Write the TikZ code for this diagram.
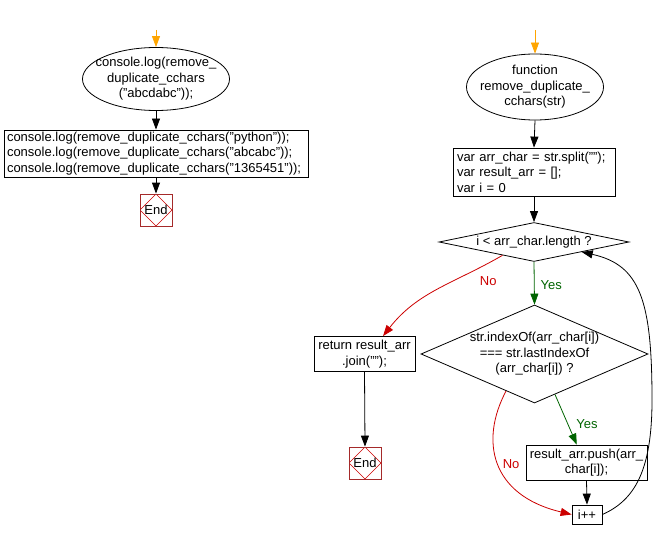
\documentclass[tikz,border=0pt]{standalone}
\usepackage{fontspec}
\setmainfont{Liberation Sans}
\usetikzlibrary{shapes.geometric,arrows.meta,calc}
\definecolor{startor}{HTML}{FFA500}
\definecolor{yesgreen}{HTML}{006400}
\definecolor{nored}{HTML}{CC0000}
\definecolor{endbrown}{HTML}{A52A2A}
\begin{document}
\begin{tikzpicture}[x=1pt,y=-1pt,
  font=\fontsize{13}{15.5}\selectfont,
  line width=0.8pt,
  arr/.style={-{Triangle[length=11pt,width=8pt]}},
  ell/.style={ellipse,draw,inner sep=0pt},
  lbl/.style={align=center,inner sep=0pt},
  box/.style={rectangle,draw,inner sep=0pt},
  dia/.style={diamond,draw,inner sep=0pt},
  endbox/.style={rectangle,draw=endbrown,minimum width=32pt,minimum height=32pt,inner sep=0pt,
    path picture={\draw[nored,line width=0.5pt] (path picture bounding box.north) -- (path picture bounding box.east) -- (path picture bounding box.south) -- (path picture bounding box.west) -- cycle;}},
  yeslbl/.style={text=yesgreen,inner sep=0pt},
  nolbl/.style={text=nored,inner sep=0pt}
]
\useasboundingbox (0,0) rectangle (663,540);

% left column
\coordinate (sL) at (156,30);
\node[ell,minimum width=147pt,minimum height=63pt,label={[lbl]center:console.log(remove\_\\duplicate\_cchars\\("abcdabc"));}] (eL) at (156,79) {};
\node[box,minimum width=304pt,minimum height=47pt,text width=298pt,align=left] (bL) at (156,153.5) {console.log(remove\_duplicate\_cchars("python"));\\console.log(remove\_duplicate\_cchars("abcabc"));\\console.log(remove\_duplicate\_cchars("1365451"));};
\node[endbox] (endL) at (156,210) {End};

\draw[arr,startor] (sL) -- (eL.north);
\draw[arr] (eL.south) -- (bL.north);
\draw[arr] (bL.south) -- (endL.north);

% right column
\coordinate (sR) at (535,30);
\node[ell,minimum width=137pt,minimum height=66pt,label={[lbl]center:function\\remove\_duplicate\_\\cchars(str)}] (eR) at (535,87) {};
\node[box,minimum width=162pt,minimum height=48pt,text width=154pt,align=left] (bR) at (534,172) {var arr\_char = str.split("");\\var result\_arr = [];\\var i = 0};
\node[dia,minimum width=190pt,minimum height=39pt,label={[lbl]center:i < arr\_char.length ?}] (d1) at (534,242) {};
\node[dia,minimum width=227pt,minimum height=98pt,label={[lbl]center:{str.indexOf(arr\_char[i])\\=== str.lastIndexOf\\(arr\_char[i]) ?}}] (d2) at (534.5,354) {};
\node[box,minimum width=101pt,minimum height=35pt,align=center] (ret) at (364.5,354) {return result\_arr\\.join("");};
\node[endbox] (endR) at (365,463) {End};
\node[box,minimum width=121pt,minimum height=35pt,align=center] (push) at (586.5,462.5) {result\_arr.push(arr\_\\char[i]);};
\node[box,minimum width=30pt,minimum height=19pt] (ipp) at (587,514.5) {i++};

\draw[arr,startor] (sR) -- (eR.north);
\draw[arr] (eR.south) -- (bR.north);
\draw[arr] (bR.south) -- (d1.north);
\draw[arr,yesgreen] (d1.south) -- node[yeslbl,right=6pt,pos=0.55] {Yes} (d2.north);
\draw[arr,nored] ($(d1.west)!0.67!(d1.south)$) to[out=-150,in=52] node[nolbl,pos=0.1,below=13pt] {No} (ret.north -| 383,0);
\draw[arr] (ret.south) -- (endR.north);
\draw[arr,yesgreen] ($(d2.south)!0.18!(d2.east)$) -- node[yeslbl,right=8pt,pos=0.6] {Yes} ($(push.north west)!0.42!(push.north east)$);
\draw[arr] (push.south) -- (ipp.north);
\draw[arr,nored] ($(d2.south)!0.25!(d2.west)$) .. controls (480,440) and (490,495) .. node[nolbl,pos=0.5,right=4pt] {No} (ipp.west);
\draw[arr] (ipp.east) .. controls (635,500) and (652,470) .. (652,400) .. controls (652,300) and (640,265) .. ($(d1.south)!0.5!(d1.east)$);
\end{tikzpicture}
\end{document}
